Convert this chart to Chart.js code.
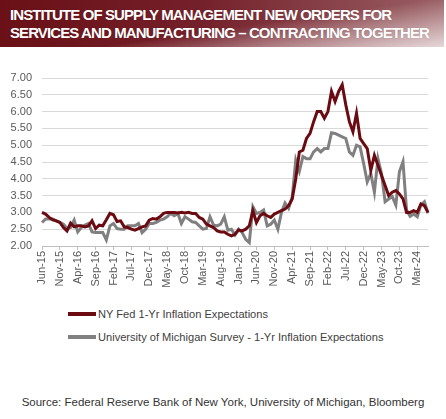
<!DOCTYPE html>
<html>
<head>
<meta charset="utf-8">
<script src="https://cdn.jsdelivr.net/npm/chart.js@4"></script>
<style>
  body { margin: 0; width: 446px; height: 419px; background: #fff; font-family: "Liberation Sans", Arial, sans-serif; overflow: hidden; position: relative; }
  #header {
    position: absolute; left: 0; top: 0; width: 444px; height: 47px;
    background:
      linear-gradient(172deg, rgba(255,255,255,0) 55%, rgba(255,255,255,0.75) 100%),
      linear-gradient(to right, #6a1016 0%, #74202a 45%, #9a6065 100%);
  }
  #header div {
    position: absolute; left: 10px; color: #fff; font-weight: bold; font-size: 15px;
    letter-spacing: -0.9px; white-space: nowrap; text-shadow: 0 0 1px rgba(0,0,0,0.3);
  }
  #wrap { position: absolute; left: 0; top: 50px; width: 446px; height: 250px; }
  #legend { position: absolute; left: 68px; top: 302px; font-size: 11.1px; color: #404040; }
  .item { display: flex; align-items: center; height: 23px; }
  .swatch { width: 28px; height: 4px; margin-right: 2px; }
  #source { position: absolute; left: 0; width: 446px; top: 396px; text-align: center; font-size: 11.5px; color: #333; }
</style>
</head>
<body>
<div id="header">
  <div style="top:6px">INSTITUTE OF SUPPLY MANAGEMENT NEW ORDERS FOR</div>
  <div style="top:24px">SERVICES AND MANUFACTURING – CONTRACTING TOGETHER</div>
</div>
<div id="wrap"><canvas id="chart"></canvas></div>
<div id="legend"></div>
<div id="source">Source: Federal Reserve Bank of New York, University of Michigan, Bloomberg</div>
<script>
// monthly, Jun-15 .. Jun-24
const months = ['Jan','Feb','Mar','Apr','May','Jun','Jul','Aug','Sep','Oct','Nov','Dec'];
const labels = [];
for (let y = 15, m = 5; y < 24 || (y === 24 && m <= 5); m++) {
  if (m === 12) { m = 0; y++; }
  labels.push(months[m] + '-' + y);
}

const nyFed = [
  3.0, 2.95, 2.85, 2.78, 2.75, 2.7, 2.55,
  2.45, 2.68, 2.57, 2.6, 2.6, 2.57, 2.6, 2.75, 2.52, 2.62, 2.6, 2.78,
  2.97, 2.93, 2.73, 2.75, 2.57, 2.55, 2.5, 2.47, 2.52, 2.57, 2.6, 2.77,
  2.82, 2.8, 2.87, 2.97, 3.0, 3.0, 3.0, 2.98, 3.0, 2.98, 3.0, 2.97,
  2.97, 2.85, 2.8, 2.65, 2.6, 2.55, 2.45, 2.42, 2.42, 2.35, 2.3, 2.35,
  2.48, 2.45, 2.5, 2.6, 3.05, 2.7, 2.9, 2.97, 2.9, 2.85, 2.95, 3.0,
  3.05, 3.1, 3.2, 3.4, 4.0, 4.8, 4.85, 5.2, 5.35, 5.7, 6.0, 6.0,
  5.8, 6.0, 6.6, 6.3, 6.6, 6.8, 6.2, 5.7, 5.4, 5.95, 5.2, 5.05,
  4.9, 4.25, 4.7, 4.4, 4.1, 3.8, 3.5, 3.6, 3.65, 3.55, 3.4, 3.0,
  3.0, 3.05, 3.0, 3.25, 3.2, 3.0
];

const michigan = [
  2.7, 2.8, 2.8, 2.8, 2.75, 2.7, 2.65,
  2.52, 2.55, 2.77, 2.42, 2.55, 2.62, 2.67, 2.42, 2.4, 2.4, 2.4, 2.18,
  2.6, 2.67, 2.52, 2.5, 2.5, 2.6, 2.6, 2.6, 2.67, 2.4, 2.5, 2.67,
  2.67, 2.7, 2.77, 2.8, 2.87, 2.97, 2.9, 2.97, 2.67, 2.87, 2.8, 2.72,
  2.7, 2.6, 2.5, 2.52, 2.87, 2.62, 2.6, 2.65, 2.87, 2.47, 2.5, 2.33,
  2.5, 2.4, 2.2, 2.1, 3.17, 2.97, 3.0, 3.07, 2.6, 2.65, 2.77, 2.5,
  3.0, 3.28, 3.12, 3.45, 4.56, 4.22, 4.66, 4.6, 4.6, 4.8, 4.9, 4.8,
  4.9, 4.9, 5.37, 5.35, 5.3, 5.25, 5.2, 4.8, 4.7, 5.0, 4.95, 4.45,
  3.91, 4.16, 3.6, 4.6, 4.15, 3.32, 3.4, 3.47, 3.22, 4.21, 4.51, 3.07,
  2.88, 2.95, 2.87, 3.22, 3.32, 2.97
];

const seriesNames = ['NY Fed 1-Yr Inflation Expectations', 'University of Michigan Survey - 1-Yr Inflation Expectations'];
const seriesColors = ['#6b0a10', '#808080'];
const yMin = 2, yMax = 7, yStep = 0.5;

const ctx = document.getElementById('chart').getContext('2d');
new Chart(ctx, {
  type: 'line',
  data: {
    labels: labels,
    datasets: [
      { label: seriesNames[0], data: nyFed, borderColor: seriesColors[0], borderWidth: 3, pointRadius: 0, tension: 0 },
      { label: seriesNames[1], data: michigan, borderColor: seriesColors[1], borderWidth: 3, pointRadius: 0, tension: 0 }
    ]
  },
  options: {
    responsive: true,
    maintainAspectRatio: false,
    animation: false,
    layout: { padding: { top: 28, right: 18, left: 0, bottom: 0 } },
    plugins: { legend: { display: false }, tooltip: { enabled: false } },
    scales: {
      x: {
        grid: { drawOnChartArea: false, drawTicks: true, tickLength: 4, color: '#bfbfbf' },
        border: { color: '#bfbfbf' },
        ticks: {
          autoSkip: false, minRotation: 90, maxRotation: 90, padding: 1,
          color: '#595959', font: { family: 'Liberation Sans', size: 11 },
          callback: (v, i) => (i % 5 === 0 ? labels[i] : null)
        },
        afterFit: s => { s.height = 54; }
      },
      y: {
        min: yMin, max: yMax,
        grid: { color: '#d9d9d9', drawTicks: false },
        border: { display: false },
        ticks: {
          stepSize: yStep, padding: 10,
          color: '#595959', font: { family: 'Liberation Sans', size: 11 },
          callback: v => v.toFixed(2)
        },
        afterFit: s => { s.width = 42; }
      }
    }
  }
});

// legend below the chart
const legend = document.getElementById('legend');
seriesNames.forEach((name, i) => {
  const row = document.createElement('div');
  row.className = 'item';
  row.innerHTML = '<span class="swatch" style="background:' + seriesColors[i] + '"></span>' + name;
  legend.appendChild(row);
});
</script>
</body>
</html>
